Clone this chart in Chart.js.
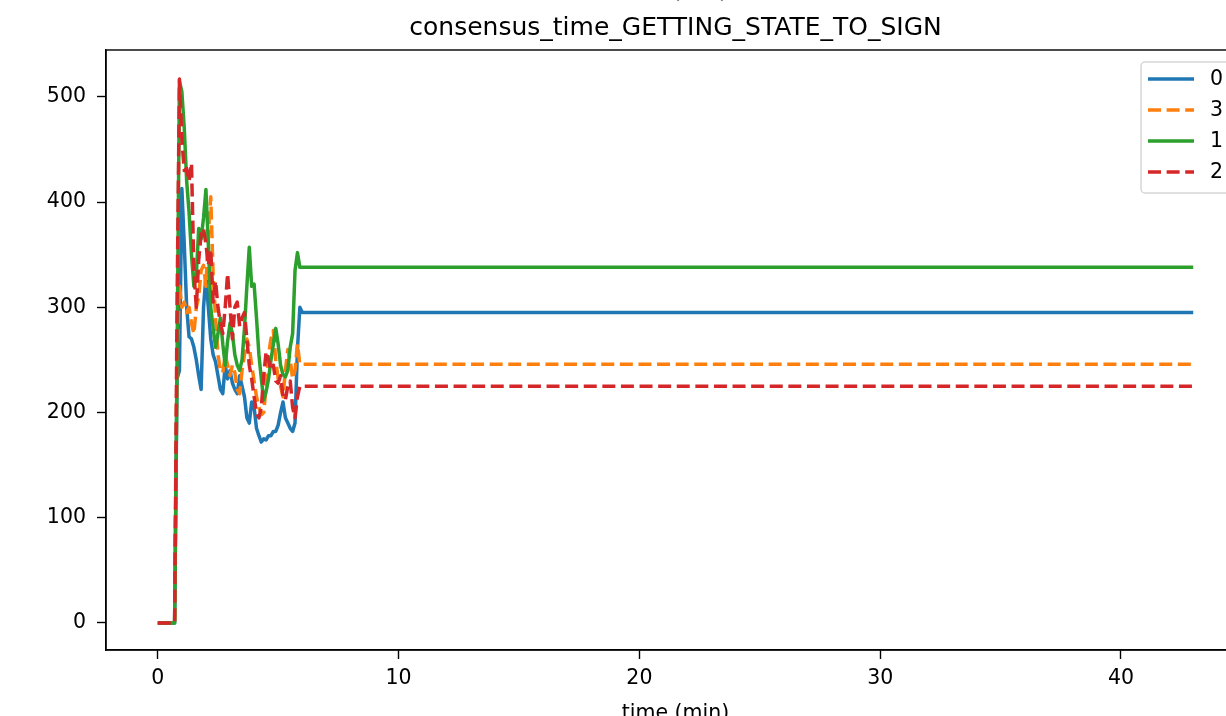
<!DOCTYPE html>
<html>
<head>
<meta charset="utf-8">
<script src="https://cdn.jsdelivr.net/npm/chart.js@4.4.1/dist/chart.umd.min.js"></script>
<style>
  html, body { margin: 0; padding: 0; background: #fff; overflow: hidden; }
  #wrap { position: absolute; left: 0; top: -20px; width: 1300px; height: 760px; }
</style>
</head>
<body>
<div id="wrap"><canvas id="chartConsensus"></canvas></div>
<script>
// time in minutes
const times = [0, 0.1, 0.2, 0.3, 0.4, 0.5, 0.6, 0.7,
  0.8, 0.9, 1.0, 1.1, 1.2, 1.3, 1.4, 1.5, 1.6, 1.7,
  1.8, 1.9, 2.0, 2.1, 2.2, 2.3, 2.4, 2.5, 2.6, 2.7,
  2.8, 2.9, 3.0, 3.1, 3.2, 3.3, 3.4, 3.5, 3.6, 3.7,
  3.8, 3.9, 4.0, 4.1, 4.2, 4.3, 4.4, 4.5, 4.6, 4.7,
  4.8, 4.9, 5.0, 5.1, 5.2, 5.3, 5.4, 5.5, 5.6, 5.7,
  5.8, 5.9, 6.0, 43];

const node0 = [0, 0, 0, 0, 0, 0, 0, 0,
  232, 240, 413, 360, 300, 272, 270, 262, 250, 235,
  222, 300, 330, 300, 270, 255, 248, 235, 222, 218,
  245, 232, 240, 228, 222, 218, 235, 225, 215, 195,
  190, 210, 205, 185, 178, 172, 175, 174, 178, 178,
  182, 182, 188, 200, 210, 195, 190, 185, 182, 190,
  260, 300, 295, 295];

const node3 = [0, 0, 0, 0, 0, 0, 0, 0,
  250, 320, 300, 305, 295, 300, 285, 275, 300, 310,
  335, 340, 320, 370, 405, 330, 290, 255, 240, 238,
  255, 245, 235, 245, 238, 222, 218, 240, 255, 270,
  262, 245, 230, 215, 205, 198, 200, 225, 255, 270,
  278, 250, 232, 225, 215, 240, 260, 250, 232, 240,
  265, 246, 246, 246];

const node1 = [0, 0, 0, 0, 0, 0, 0, 0,
  250, 515, 505, 470, 420, 390, 350, 320, 330, 375,
  365, 385, 412, 360, 300, 280, 262, 275, 290, 265,
  245, 268, 285, 275, 255, 245, 240, 250, 280, 320,
  357, 320, 322, 290, 255, 232, 212, 220, 232, 250,
  265, 280, 265, 245, 236, 234, 240, 262, 275, 335,
  352, 338, 338, 338];

const node2 = [0, 0, 0, 0, 0, 0, 0, 0,
  300, 517, 460, 430, 432, 420, 437, 335, 300, 345,
  370, 375, 360, 340, 355, 305, 325, 300, 285, 275,
  300, 332, 300, 270, 300, 305, 282, 290, 295, 270,
  245, 232, 215, 200, 195, 205, 235, 258, 250, 240,
  245, 230, 228, 235, 215, 212, 225, 230, 205, 195,
  215, 225, 225, 225];

const seriesLabels = ['0', '3', '1', '2'];
const xTicks = [0, 10, 20, 30, 40];
const yTicks = [0, 100, 200, 300, 400, 500];

const colors = ['#1f77b4', '#ff7f0e', '#2ca02c', '#d62728'];
const dashes = [[], [13, 5.6], [], [13, 5.6]];

function toPoints(vals) {
    return vals.map((v, i) => ({ x: times[i], y: v }));
}

Chart.defaults.font.family = "'DejaVu Sans', sans-serif";
Chart.defaults.color = '#000';

// frame, titles and the boxed legend drawn like matplotlib
const framePlugin = {
    id: 'frame',
    afterDraw(chart) {
        const c = chart.ctx;
        const a = chart.chartArea;
        c.save();
        c.strokeStyle = '#000';
        c.lineWidth = 1.4;
        c.strokeRect(a.left, a.top, a.right - a.left, a.bottom - a.top);

        c.fillStyle = '#000';
        c.textAlign = 'center';
        c.textBaseline = 'alphabetic';
        c.font = "25px 'DejaVu Sans'";
        c.fillText('(ms)', 700, 17);
        c.fillText('consensus_time_GETTING_STATE_TO_SIGN', (a.left + a.right) / 2, 55);

        // legend
        const lx = 1141, ly = 82, lw = 100, lh = 131;
        c.beginPath();
        c.roundRect(lx, ly, lw, lh, 4);
        c.fillStyle = 'rgba(255,255,255,0.8)';
        c.fill();
        c.strokeStyle = '#d6d6d6';
        c.lineWidth = 1.5;
        c.stroke();

        c.font = "20.5px 'DejaVu Sans'";
        c.textAlign = 'left';
        c.textBaseline = 'middle';
        chart.data.datasets.forEach((ds, i) => {
            const y = ly + 17 + i * 31;
            c.beginPath();
            c.setLineDash(ds.borderDash || []);
            c.strokeStyle = ds.borderColor;
            c.lineWidth = ds.borderWidth;
            c.moveTo(1148, y);
            c.lineTo(1194, y);
            c.stroke();
            c.setLineDash([]);
            c.fillStyle = '#000';
            c.fillText(ds.label, 1210, y + 1);
        });
        c.restore();
    }
};

const ctx = document.getElementById('chartConsensus');
const allSeries = [node0, node3, node1, node2];

new Chart(ctx, {
    type: 'line',
    data: {
        datasets: allSeries.map((vals, i) => ({
            label: seriesLabels[i],
            data: toPoints(vals),
            borderColor: colors[i],
            backgroundColor: colors[i],
            borderWidth: 3.5,
            borderDash: dashes[i],
            borderJoinStyle: 'round',
            pointRadius: 0,
            tension: 0,
            fill: false,
            order: 3 - i // last series on top, like matplotlib
        }))
    },
    options: {
        responsive: true,
        maintainAspectRatio: false,
        animation: false,
        devicePixelRatio: 1,
        layout: { padding: { top: 70, right: 55, left: 0, bottom: 0 } },
        plugins: {
            legend: false,
            tooltip: { enabled: false }
        },
        scales: {
            x: {
                type: 'linear',
                min: -2.15,
                max: 45.15,
                afterBuildTicks: (scale) => { scale.ticks = xTicks.map(v => ({ value: v })); },
                afterFit: (scale) => { scale.height = 90; },
                grid: { display: true, drawOnChartArea: false, drawTicks: true, tickLength: 9, color: '#000', tickWidth: 1.4 },
                border: { display: true, color: '#000', width: 1.4 },
                ticks: { font: { size: 20.5 }, padding: 7, maxRotation: 0 },
                title: { display: true, text: 'time (min)', font: { size: 20.5 }, padding: { top: 4, bottom: 14 } }
            },
            y: {
                type: 'linear',
                min: -25.7,
                max: 544.6,
                afterBuildTicks: (scale) => { scale.ticks = yTicks.map(v => ({ value: v })); },
                afterFit: (scale) => { scale.width = 106; },
                grid: { display: true, drawOnChartArea: false, drawTicks: true, tickLength: 9, color: '#000', tickWidth: 1.4 },
                border: { display: true, color: '#000', width: 1.4 },
                ticks: { font: { size: 20.5 }, padding: 11 }
            }
        }
    },
    plugins: [framePlugin]
});
</script>
</body>
</html>
